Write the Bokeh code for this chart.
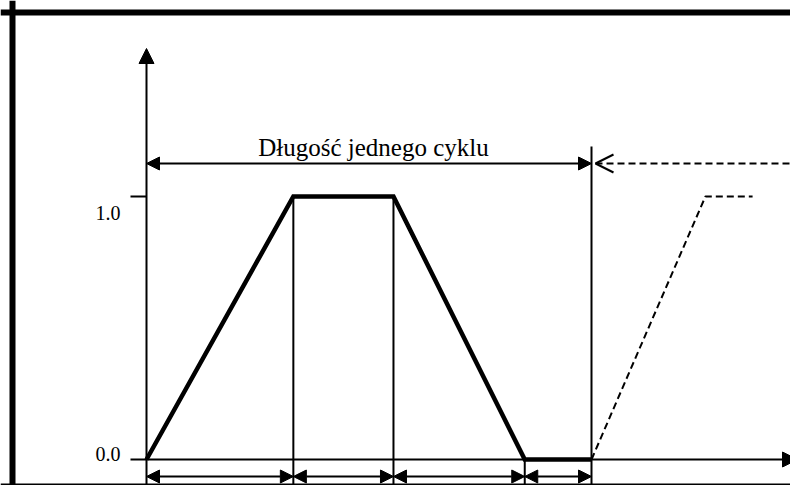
from bokeh.plotting import figure
from bokeh.models import Range1d, Arrow, NormalHead, OpenHead, Span
from bokeh.core.properties import value
from bokeh.embed import file_html
from bokeh.resources import INLINE
import math

# ---- data ----
cycle_t = [0.0, 0.33, 0.555, 0.85, 1.0]          # phase boundaries of one cycle
cycle_level = [0.0, 1.0, 1.0, 0.0, 0.0]          # signal level at boundaries
next_t = [1.0, 1.256, 1.362]                     # start of next cycle (dashed)
next_level = [0.0, 1.0, 1.0]
tick_values = [0.0, 1.0]
tick_labels = ["0.0", "1.0"]
cycle_label = "Długość jednego cyklu"

# ---- geometry (picture pixels -> data) ----
PX_X0, PX_PER_T = 146.0, 445.0
PY_Y0, PX_PER_L = 459.0, 263.0
def tx(px):
    return (px - PX_X0) / PX_PER_T
def ly(py):
    return (PY_Y0 - py) / PX_PER_L

W, H = 790, 485
p = figure(width=W, height=H, output_backend="svg", toolbar_location=None,
           x_range=Range1d(tx(0), tx(W)), y_range=Range1d(ly(H), ly(0)),
           min_border=0, outline_line_color=None)
p.axis.visible = False
p.grid.visible = False
p.background_fill_color = "white"
p.border_fill_color = "white"

ylo = ly(H)
black = "black"

# frame border
p.add_layout(Span(location=tx(12), dimension="height", line_color=black, line_width=6))
p.add_layout(Span(location=ly(12), dimension="width", line_color=black, line_width=6))
p.add_layout(Span(location=ly(H - 1), dimension="width", line_color=black, line_width=2))

# axes with arrows
p.add_layout(Arrow(end=NormalHead(size=15, fill_color=black, line_color=black),
                   x_start=0, y_start=ylo, x_end=0, y_end=ly(48),
                   line_width=2, line_color=black))
p.add_layout(Arrow(end=NormalHead(size=15, fill_color=black, line_color=black),
                   x_start=0, y_start=0, x_end=tx(797), y_end=0,
                   line_width=2, line_color=black))

# ticks and labels
p.ray(x=[0] * len(tick_values), y=tick_values, length=16, length_units="screen",
      angle=math.pi, line_width=2, line_color=black)
p.text(x=[0] * len(tick_values), y=tick_values, text=tick_labels,
       x_offset=-26, y_offset=[-6, 16], text_align="right", text_baseline="middle",
       text_font=value("Liberation Serif"), text_font_size="20px", text_color=black)

# vertical divider lines
p.segment(x0=cycle_t[1:3], y0=cycle_level[1:3], x1=cycle_t[1:3], y1=[ylo] * 2,
          line_width=2, line_color=black)
p.segment(x0=[cycle_t[3]], y0=[cycle_level[3]], x1=[cycle_t[3]], y1=[ylo],
          line_width=2, line_color=black)
p.segment(x0=[cycle_t[4]], y0=[ly(146)], x1=[cycle_t[4]], y1=[ylo],
          line_width=2, line_color=black)

# signal
p.line(cycle_t, cycle_level, line_width=4.5, line_color=black, line_join="miter")
p.line(next_t, next_level, line_width=2, line_color=black, line_dash="7 4")

# cycle length dimension line
ydim = ly(163)
p.add_layout(Arrow(start=NormalHead(size=13, fill_color=black, line_color=black),
                   end=NormalHead(size=13, fill_color=black, line_color=black),
                   x_start=cycle_t[0], y_start=ydim, x_end=cycle_t[-1], y_end=ydim,
                   line_width=2, line_color=black))
p.text(x=[(cycle_t[0] + cycle_t[-1]) / 2 + 0.01], y=[ly(147)], text=[cycle_label],
       text_align="center", text_baseline="alphabetic",
       text_font=value("Liberation Serif"), text_font_size="25px", text_color=black)

# dashed continuation arrow
p.add_layout(Arrow(start=OpenHead(size=18, line_color=black, line_width=2),
                   end=None,
                   x_start=cycle_t[-1] + tx(595) - tx(591), y_start=ydim,
                   x_end=tx(W + 5), y_end=ydim,
                   line_width=2, line_color=black, line_dash="7 4"))

# phase dimension arrows
ybot = ly(476)
for a, b in zip(cycle_t[:-1], cycle_t[1:]):
    p.add_layout(Arrow(start=NormalHead(size=13, fill_color=black, line_color=black),
                       end=NormalHead(size=13, fill_color=black, line_color=black),
                       x_start=a, y_start=ybot, x_end=b, y_end=ybot,
                       line_width=2, line_color=black))

open("out.html", "w").write(file_html(p, INLINE))
